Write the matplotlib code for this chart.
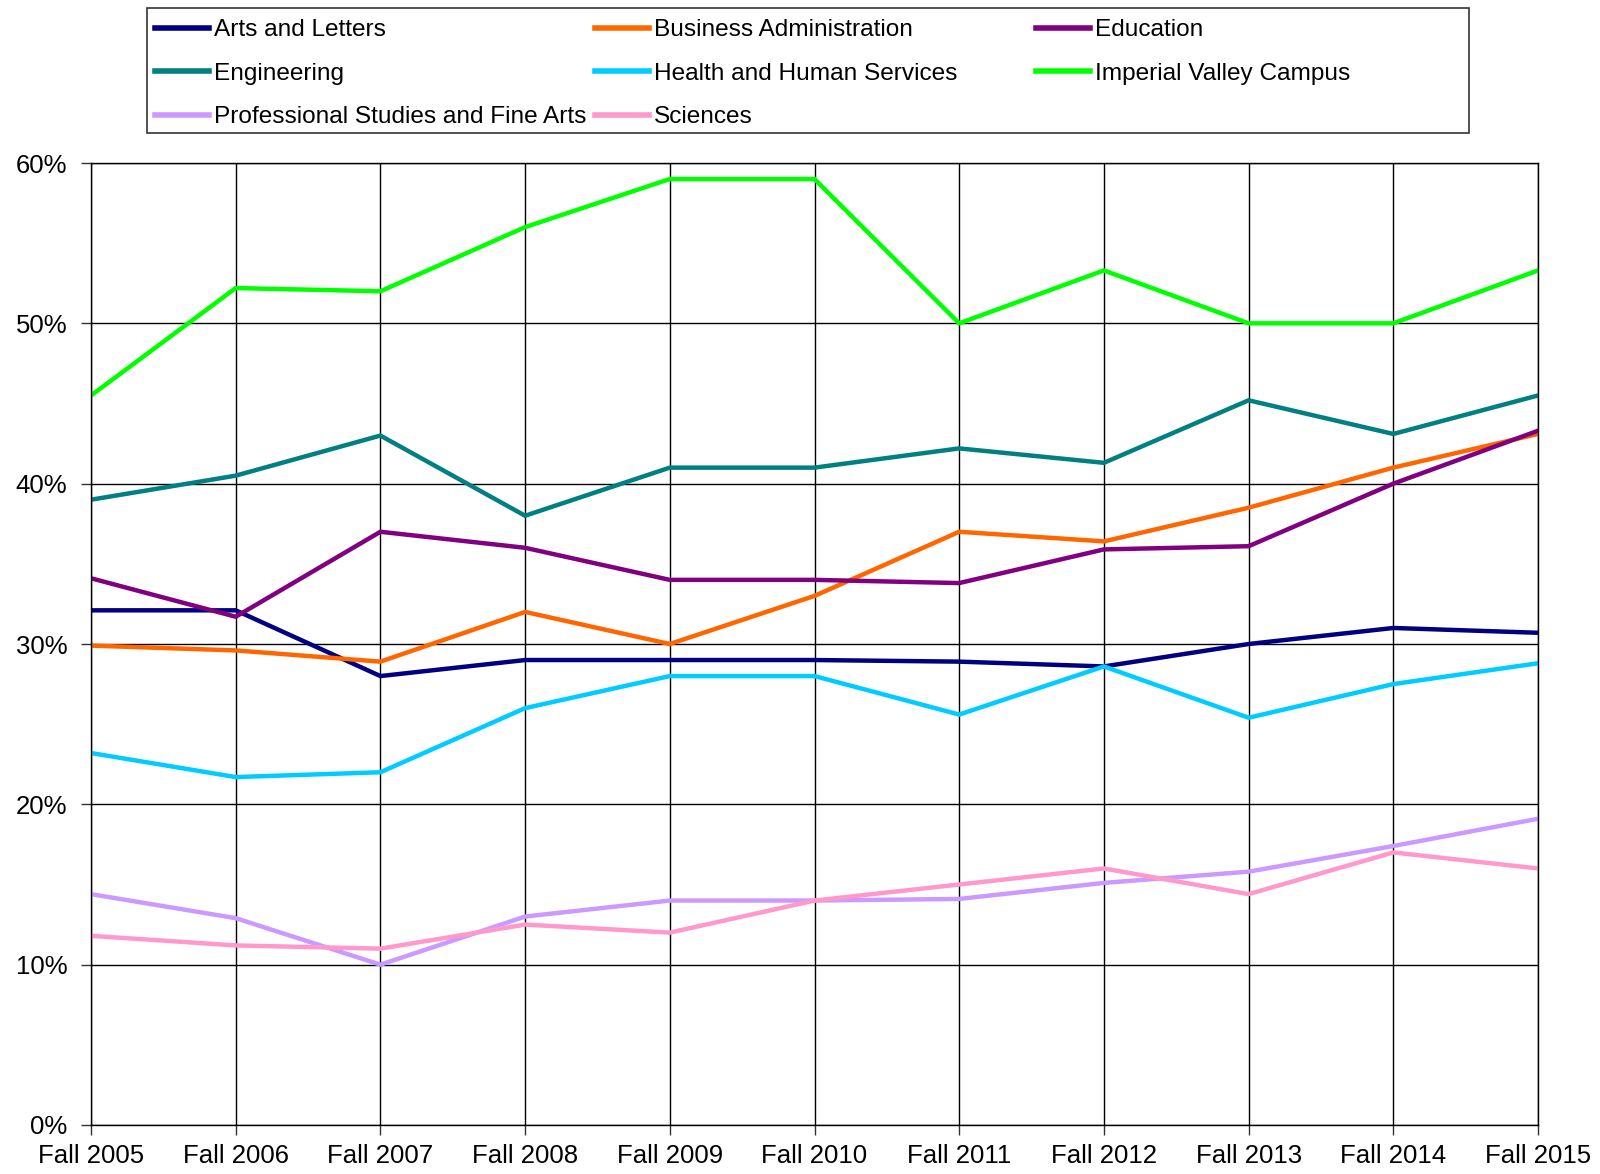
import matplotlib
matplotlib.use("Agg")
import matplotlib.pyplot as plt
from matplotlib.patches import Rectangle
from matplotlib.ticker import PercentFormatter

plt.rcParams['font.family'] = ['Liberation Sans', 'DejaVu Sans']

years = ["Fall 2005", "Fall 2006", "Fall 2007", "Fall 2008", "Fall 2009", "Fall 2010",
         "Fall 2011", "Fall 2012", "Fall 2013", "Fall 2014", "Fall 2015"]

arts_letters = [32.1, 32.1, 28.0, 29.0, 29.0, 29.0, 28.9, 28.6, 30.0, 31.0, 30.7]
business_admin = [29.9, 29.6, 28.9, 32.0, 30.0, 33.0, 37.0, 36.4, 38.5, 41.0, 43.1]
education = [34.1, 31.7, 37.0, 36.0, 34.0, 34.0, 33.8, 35.9, 36.1, 40.0, 43.3]
engineering = [39.0, 40.5, 43.0, 38.0, 41.0, 41.0, 42.2, 41.3, 45.2, 43.1, 45.5]
health_human = [23.2, 21.7, 22.0, 26.0, 28.0, 28.0, 25.6, 28.6, 25.4, 27.5, 28.8]
imperial_valley = [45.5, 52.2, 52.0, 56.0, 59.0, 59.0, 50.0, 53.3, 50.0, 50.0, 53.3]
prof_studies = [14.4, 12.9, 10.0, 13.0, 14.0, 14.0, 14.1, 15.1, 15.8, 17.4, 19.1]
sciences = [11.8, 11.2, 11.0, 12.5, 12.0, 14.0, 15.0, 16.0, 14.4, 17.0, 16.0]

series_names = ["Arts and Letters", "Business Administration", "Education",
                "Engineering", "Health and Human Services", "Imperial Valley Campus",
                "Professional Studies and Fine Arts", "Sciences"]
series_values = [arts_letters, business_admin, education, engineering,
                 health_human, imperial_valley, prof_studies, sciences]
colors = ["#000080", "#FF6600", "#800080", "#008080", "#00CCFF", "#00FF00",
          "#CC99FF", "#FF99CC"]

fig = plt.figure(figsize=(16, 11.74), dpi=100)
ax = fig.add_axes([91/1600, 1 - 1125/1174, (1538 - 91)/1600, (1125 - 163)/1174])

x = list(range(len(years)))
handles = []
for name, vals, c in zip(series_names, series_values, colors):
    h, = ax.plot(x, vals, color=c, lw=3.2, label=name, solid_joinstyle='miter')
    handles.append(h)

ax.set_xlim(0, len(years) - 1)
ax.set_ylim(0, 60)
ax.set_yticks(range(0, 61, 10))
ax.yaxis.set_major_formatter(PercentFormatter(decimals=0))
ax.set_xticks(x)
ax.set_xticklabels(years)
ax.grid(True, color='black', lw=1)
ax.set_axisbelow(True)
for s in ax.spines.values():
    s.set_color('black')
    s.set_linewidth(1)
ax.tick_params(axis='both', direction='out', length=7, width=1, color='#333333', labelsize=18.5)
ax.tick_params(axis='y', pad=10)
ax.tick_params(axis='x', pad=7)

# legend frame
fig.patches.append(Rectangle((147/1600, 1 - 133/1174), (1469 - 147)/1600, (133 - 8)/1174,
                             transform=fig.transFigure, facecolor='white',
                             edgecolor='#333333', lw=1.2))
cols = [[0, 3, 6], [1, 4, 7], [2, 5]]
col_x = [155, 595, 1036]
for cx, idxs in zip(col_x, cols):
    leg = fig.legend([handles[i] for i in idxs], [series_names[i] for i in idxs],
                     loc='upper left', bbox_to_anchor=(cx/1600, 1 - 19/1174),
                     frameon=False, fontsize=17.6, handlelength=2.2, handletextpad=0.2,
                     labelspacing=0.88, borderpad=0, borderaxespad=0)
    for lh in leg.get_lines():
        lh.set_linewidth(4)

fig.savefig("out.png", dpi=100, facecolor='white')
